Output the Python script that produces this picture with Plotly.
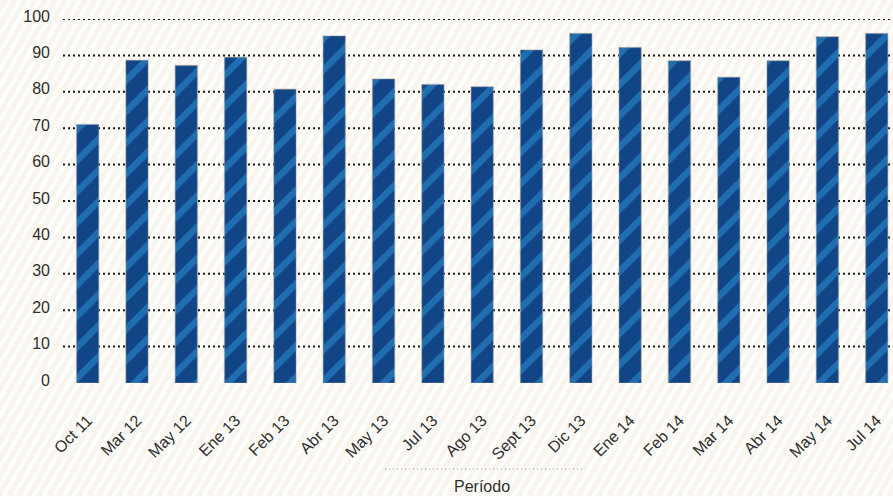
import math
import plotly.graph_objects as go

# datos
periodos = ["Oct 11", "Mar 12", "May 12", "Ene 13", "Feb 13", "Abr 13", "May 13",
            "Jul 13", "Ago 13", "Sept 13", "Dic 13", "Ene 14", "Feb 14", "Mar 14",
            "Abr 14", "May 14", "Jul 14"]
valores = [71, 88.7, 87.2, 89.5, 80.7, 95.3, 83.5, 82, 81.4, 91.5, 96, 92.2,
           88.5, 84, 88.5, 95.1, 96]
y_ticks = [0, 10, 20, 30, 40, 50, 60, 70, 80, 90, 100]

W, H = 893, 496
ML, MR, MT, MB = 63, 0, 19, 113
PW, PH = W - ML - MR, H - MT - MB

def px_x(x):
    return (x - ML) / PW

def px_y(y):
    return (H - MB - y) / PH

fig = go.Figure()

fig.add_trace(go.Bar(
    x=periodos,
    y=valores,
    width=0.45,
    marker=dict(
        color="#14508f",
        line=dict(color="rgba(140,140,140,0.35)", width=1.5),
        pattern=dict(shape="/", fgcolor="#2f98de", bgcolor="#114585",
                     size=22, solidity=0.3),
    ),
    hoverinfo="x+y",
))

shapes = []

# fondo rayado
paso = 10
dx = H / math.tan(math.radians(60))
x0 = -dx
while x0 < W + 10:
    shapes.append(dict(type="line", xref="paper", yref="paper",
                       x0=px_x(x0), y0=px_y(H), x1=px_x(x0 + dx), y1=px_y(0),
                       line=dict(color="#fefdfb", width=4), layer="below"))
    x0 += paso

# lineas de cuadricula punteadas
for v in y_ticks[1:]:
    shapes.append(dict(type="line", xref="paper", yref="y",
                       x0=0, x1=1, y0=v, y1=v,
                       line=dict(color="#1a1a1a", width=2, dash="2px,3px"),
                       layer="below"))

# linea sobre el titulo del eje
shapes.append(dict(type="line", xref="paper", yref="paper",
                   x0=px_x(385), x1=px_x(583), y0=px_y(469), y1=px_y(469),
                   line=dict(color="#9a9a9a", width=1, dash="1px,3px")))

fig.update_layout(
    width=W, height=H,
    margin=dict(l=ML, r=MR, t=MT, b=MB),
    paper_bgcolor="#f8f5ee",
    plot_bgcolor="rgba(0,0,0,0)",
    showlegend=False,
    font=dict(family="Liberation Sans", color="#2e2e2e", size=15),
    bargap=0.55,
    shapes=shapes,
    annotations=[dict(text="Período", xref="paper", yref="paper",
                      x=px_x(482), y=px_y(487), showarrow=False,
                      font=dict(size=16, color="#2e2e2e"),
                      xanchor="center", yanchor="middle")],
)

fig.update_xaxes(
    range=[-0.5, 16.33],
    tickangle=-45,
    showgrid=False, zeroline=False, showline=False,
    ticks="", ticklabelstandoff=24,
    tickfont=dict(size=16),
)
fig.update_yaxes(
    range=[0, 100],
    tickvals=y_ticks,
    showgrid=False, zeroline=False, showline=False,
    ticks="", ticklabelstandoff=12, ticklabelshift=-3,
    tickfont=dict(size=16),
)

fig.write_html("out.html", config={"displayModeBar": False},
               post_script="document.body.style.margin='0';")
